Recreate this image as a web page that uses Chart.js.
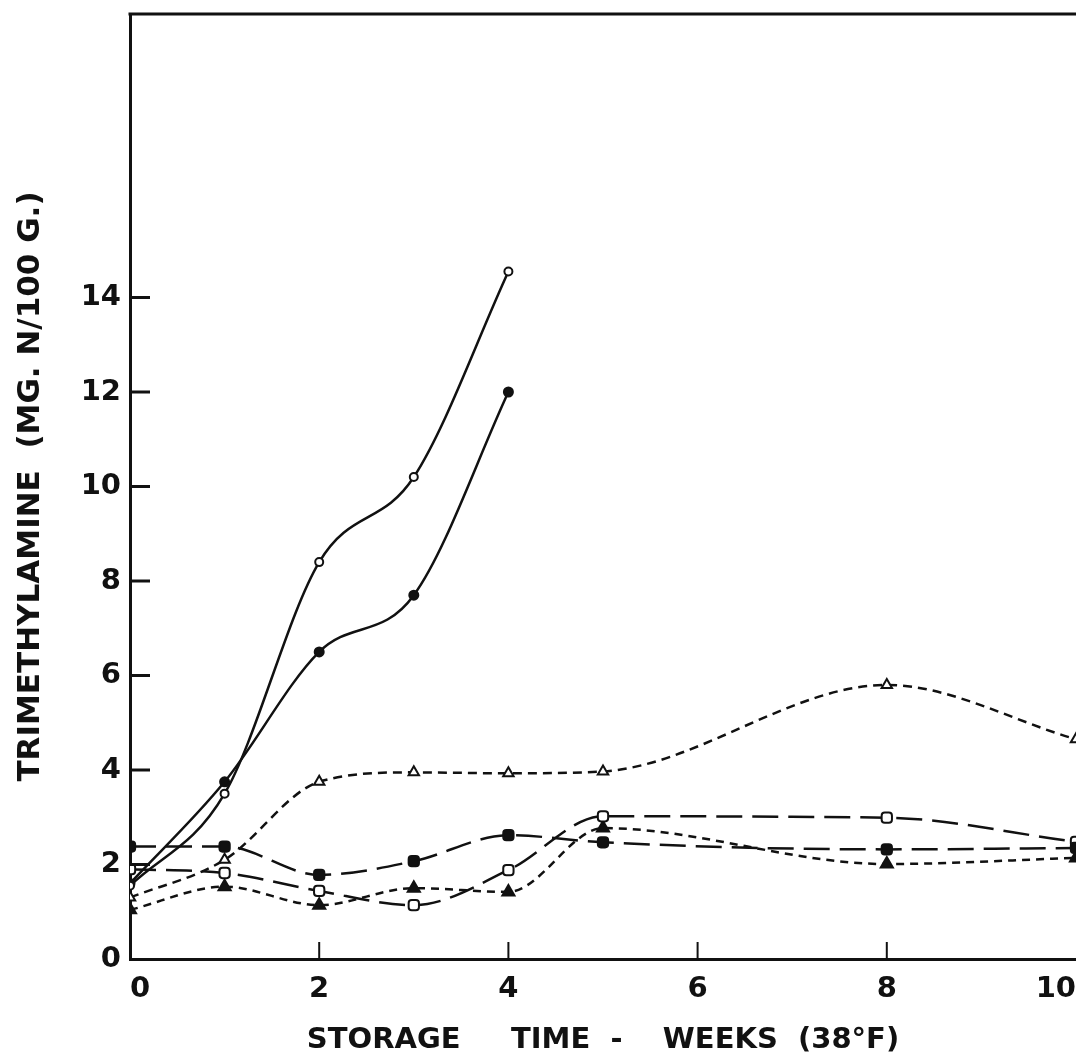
<!DOCTYPE html>
<html>
<head>
<meta charset="utf-8">
<script src="https://cdn.jsdelivr.net/npm/chart.js@4/dist/chart.umd.min.js"></script>
<style>
  html, body { margin: 0; padding: 0; background: #ffffff; overflow: hidden; }
  canvas { display: block; }
</style>
</head>
<body>
<canvas id="c" width="1076" height="1062"></canvas>
<script>
// ---- data ----
const weeks = [0, 1, 2, 3, 4, 5, 8, 10];
const openCircle     = [1.55, 3.5, 8.4, 10.2, 14.55, null, null, null];
const filledCircle   = [1.6, 3.75, 6.5, 7.7, 12.0, null, null, null];
const openTriangle   = [1.3, 2.1, 3.75, 3.95, 3.93, 3.97, 5.8, 4.65];
const filledSquare   = [2.38, 2.38, 1.78, 2.07, 2.62, 2.47, 2.32, 2.35];
const openSquare     = [1.9, 1.82, 1.44, 1.14, 1.88, 3.02, 2.99, 2.48];
const filledTriangle = [1.04, 1.53, 1.14, 1.5, 1.42, 2.77, 2.01, 2.14];

const xTicks = [0, 2, 4, 6, 8, 10];
const yTicks = [0, 2, 4, 6, 8, 10, 12, 14];
const xTitle = 'STORAGE     TIME  -    WEEKS  (38°F)';
const yTitle = 'TRIMETHYLAMINE  (MG. N/100 G.)';

const INK = '#111111';
const pts = vals => weeks.map((w, i) => ({ x: w, y: vals[i] }));

function ds(vals, style, radius, filled, dash) {
  return {
    data: pts(vals),
    borderColor: INK,
    borderWidth: 2.5,
    borderDash: dash,
    pointStyle: style,
    pointRadius: radius,
    pointBorderWidth: 2,
    pointBorderColor: INK,
    pointBackgroundColor: filled ? INK : '#ffffff',
    cubicInterpolationMode: 'monotone',
    spanGaps: false,
    fill: false
  };
}

const innerTicks = {
  id: 'innerTicks',
  afterDraw(chart) {
    const { ctx, chartArea: a, scales: { x, y } } = chart;
    ctx.save();
    ctx.strokeStyle = INK;
    ctx.lineCap = 'butt';
    ctx.lineWidth = 3;
    yTicks.forEach(v => {
      if (v === 0) return;
      const py = y.getPixelForValue(v);
      ctx.beginPath(); ctx.moveTo(a.left, py); ctx.lineTo(a.left + 20, py); ctx.stroke();
    });
    ctx.lineWidth = 2;
    xTicks.forEach(v => {
      if (v === 0 || v === 10) return;
      const px = x.getPixelForValue(v);
      ctx.beginPath(); ctx.moveTo(px, a.bottom); ctx.lineTo(px, a.bottom - 17); ctx.stroke();
    });
    // top frame line
    ctx.lineWidth = 3;
    ctx.beginPath(); ctx.moveTo(a.left - 1.5, a.top); ctx.lineTo(a.right, a.top); ctx.stroke();
    ctx.restore();
  }
};

new Chart(document.getElementById('c'), {
  type: 'line',
  data: {
    datasets: [
      ds(openCircle, 'circle', 4, false, []),
      ds(filledCircle, 'circle', 4.5, true, []),
      ds(openTriangle, 'triangle', 6, false, [9, 6]),
      ds(filledSquare, 'rectRounded', 6, true, [26, 10]),
      ds(openSquare, 'rectRounded', 6, false, [26, 10]),
      ds(filledTriangle, 'triangle', 7, true, [8, 6])
    ]
  },
  options: {
    responsive: false,
    animation: false,
    devicePixelRatio: 1,
    layout: { autoPadding: false, padding: { top: 14, right: 0, left: 0, bottom: 0 } },
    plugins: { legend: { display: false }, tooltip: { enabled: false } },
    scales: {
      x: {
        type: 'linear',
        min: 0, max: 10,
        grid: { display: false, drawTicks: false },
        border: { display: true, color: INK, width: 3 },
        afterBuildTicks: s => { s.ticks = xTicks.map(v => ({ value: v })); },
        afterFit: s => { s.height = 103; s.paddingLeft = 0; s.paddingRight = 0; },
        ticks: {
          color: INK,
          align: 'inner',
          padding: 13,
          maxRotation: 0,
          font: { family: 'DejaVu Sans', size: 29, weight: 'bold' },
          callback: v => String(v)
        },
        title: {
          display: true,
          text: xTitle,
          color: INK,
          padding: { top: 0, bottom: 4 },
          font: { family: 'DejaVu Sans', size: 29, weight: 'bold' }
        }
      },
      y: {
        type: 'linear',
        min: 0, max: 20,
        grid: { display: false, drawTicks: false },
        border: { display: true, color: INK, width: 3 },
        afterBuildTicks: s => { s.ticks = yTicks.map(v => ({ value: v })); },
        afterFit: s => { s.width = 130; s.paddingTop = 0; s.paddingBottom = 0; },
        ticks: {
          color: INK,
          padding: 9,
          font: { family: 'DejaVu Sans', size: 29, weight: 'bold' },
          callback: v => String(v)
        },
        title: {
          display: true,
          text: yTitle,
          color: INK,
          padding: { top: 12, bottom: 0 },
          font: { family: 'DejaVu Sans', size: 31, weight: 'bold' }
        }
      }
    }
  },
  plugins: [innerTicks]
});
</script>
</body>
</html>
